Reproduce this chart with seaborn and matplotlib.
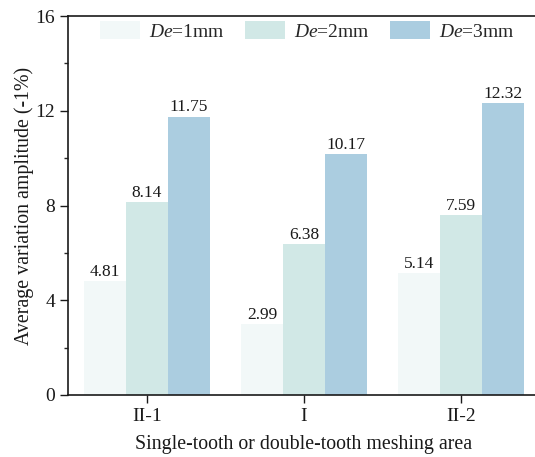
import numpy as np
import pandas as pd
import seaborn as sns
import matplotlib
matplotlib.use("Agg")
import matplotlib.pyplot as plt
from matplotlib.ticker import MultipleLocator

# Data
areas = ["II-1", "I", "II-2"]
diameters = ["$\\it{De}$=1mm", "$\\it{De}$=2mm", "$\\it{De}$=3mm"]
de1 = [4.81, 2.99, 5.14]
de2 = [8.14, 6.38, 7.59]
de3 = [11.75, 10.17, 12.32]
colors = ["#F2F8F8", "#D1E8E6", "#ABCDE0"]

df = pd.DataFrame({
    "area": areas * 3,
    "De": [diameters[0]] * 3 + [diameters[1]] * 3 + [diameters[2]] * 3,
    "value": de1 + de2 + de3,
})

sns.set_theme(style="ticks")
plt.rcParams["font.family"] = ["Liberation Serif", "DejaVu Serif"]
plt.rcParams["mathtext.fontset"] = "custom"
plt.rcParams["mathtext.rm"] = "Liberation Serif"
plt.rcParams["mathtext.it"] = "Liberation Serif:italic"

fig = plt.figure(figsize=(5.35, 4.57), dpi=100)
ax = fig.add_axes([0.128, 0.1357, 0.88, 0.829])

sns.barplot(data=df, x="area", y="value", hue="De", palette=colors,
            width=0.8, saturation=1, ax=ax, linewidth=0, errorbar=None)

for cont in ax.containers:
    ax.bar_label(cont, fmt="%.2f", padding=1, fontsize=12.5, color="#1a1a1a")

ax.set_ylim(0, 16)
ax.set_xlim(-0.5, 2.5)
ax.yaxis.set_major_locator(MultipleLocator(4))
ax.yaxis.set_minor_locator(MultipleLocator(2))
ax.tick_params(axis="both", which="major", direction="out", length=6, width=1,
               labelsize=14, colors="#1a1a1a", top=False, right=False)
ax.tick_params(axis="y", which="minor", direction="out", length=3, width=1,
               right=False)
for s in ax.spines.values():
    s.set_linewidth(1.2)
    s.set_color("#1a1a1a")

ax.set_xlabel("Single-tooth or double-tooth meshing area", fontsize=14.3,
              color="#1a1a1a", labelpad=7)
ax.set_ylabel("Average variation amplitude (-1%)", fontsize=14.3,
              color="#1a1a1a", labelpad=1)

ax.legend(loc="upper left", bbox_to_anchor=(0.067, 0.987), ncol=3,
          frameon=False, fontsize=14, handlelength=2.06, handleheight=1.06,
          columnspacing=1.03, handletextpad=0.46, borderpad=0,
          borderaxespad=0)

fig.savefig("out.png", dpi=100)
